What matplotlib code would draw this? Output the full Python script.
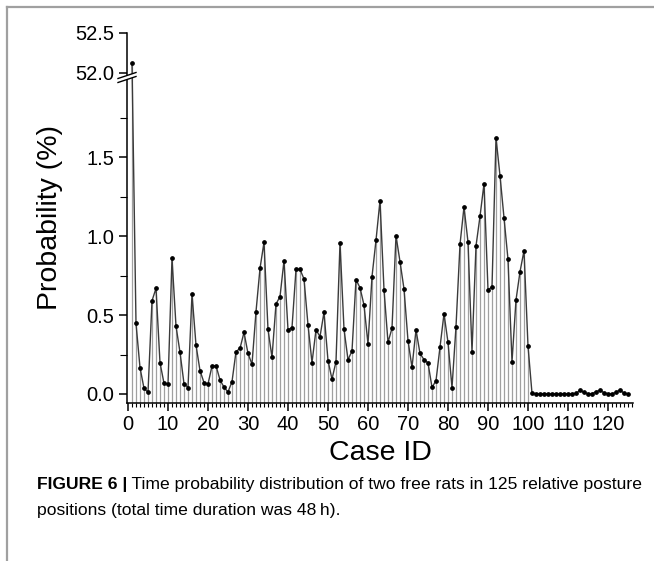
import numpy as np
import matplotlib
matplotlib.use("Agg")
import matplotlib.pyplot as plt
from matplotlib.lines import Line2D
from matplotlib.patches import Polygon

plt.rcParams['font.family'] = ['Liberation Sans', 'DejaVu Sans']

# ---------------- data ----------------
cases = np.arange(1, 126)
probability = [
    52.12, 0.447, 0.167, 0.036, 0.011, 0.590, 0.669, 0.198, 0.068, 0.063,
    0.859, 0.430, 0.264, 0.065, 0.040, 0.633, 0.310, 0.148, 0.072, 0.063,
    0.177, 0.179, 0.089, 0.043, 0.013, 0.078, 0.268, 0.289, 0.390, 0.257,
    0.188, 0.521, 0.795, 0.960, 0.409, 0.232, 0.570, 0.616, 0.844, 0.407,
    0.420, 0.789, 0.789, 0.728, 0.437, 0.198, 0.407, 0.363, 0.517, 0.212,
    0.094, 0.205, 0.956, 0.411, 0.217, 0.272, 0.724, 0.673, 0.563, 0.316,
    0.743, 0.973, 1.224, 0.660, 0.327, 0.416, 1.002, 0.838, 0.665, 0.338,
    0.169, 0.405, 0.257, 0.217, 0.197, 0.042, 0.084, 0.297, 0.508, 0.327,
    0.040, 0.426, 0.947, 1.184, 0.962, 0.268, 0.937, 1.124, 1.331, 0.660,
    0.677, 1.622, 1.382, 1.116, 0.852, 0.203, 0.595, 0.774, 0.907, 0.304,
    0.004, 0.002, 0.002, 0.002, 0.002, 0.002, 0.002, 0.002, 0.002, 0.002,
    0.002, 0.004, 0.023, 0.010, 0.002, 0.002, 0.015, 0.023, 0.008, 0.002,
    0.002, 0.010, 0.027, 0.004, 0.002,
]
probability = np.array(probability)
drop_line_last_case = 100

x_ticks = list(range(0, 121, 10))
y_ticks = [0.0, 0.5, 1.0, 1.5, 52.0, 52.5]
y_tick_labels = ["0.0", "0.5", "1.0", "1.5", "52.0", "52.5"]
y_minor = [0.25, 0.75, 1.25, 1.75]

caption_bold = "FIGURE 6 |"
caption_rest1 = " Time probability distribution of two free rats in 125 relative posture"
caption_line2 = "positions (total time duration was 48\u2009h)."

# ---------------- broken y scale ----------------
LOW_TOP, HIGH_BOT = 2.0, 52.0
T_HIGH = 2.032
HIGH_K = 80.0 / 158.0
MID_K = (T_HIGH - LOW_TOP) / (HIGH_BOT - LOW_TOP)

def fwd(y):
    y = np.asarray(y, dtype=float)
    return np.where(y <= LOW_TOP, y,
                    np.where(y >= HIGH_BOT, T_HIGH + (y - HIGH_BOT) * HIGH_K,
                             LOW_TOP + (y - LOW_TOP) * MID_K))

def inv(t):
    t = np.asarray(t, dtype=float)
    return np.where(t <= LOW_TOP, t,
                    np.where(t >= T_HIGH, HIGH_BOT + (t - T_HIGH) / HIGH_K,
                             LOW_TOP + (t - LOW_TOP) / MID_K))

W, H = 654, 561
fig = plt.figure(figsize=(W / 100, H / 100), dpi=100)
ax_left, ax_right, ax_top, ax_bot = 127, 633, 33, 403
ax = fig.add_axes([ax_left / W, 1 - ax_bot / H, (ax_right - ax_left) / W, (ax_bot - ax_top) / H])
ax.set_yscale('function', functions=(fwd, inv))

ymin = -0.057
ax.set_ylim(ymin, 52.5)
ax.set_xlim(-0.25, 126.25)

# drop lines
mask = cases <= drop_line_last_case
ax.vlines(cases[mask], ymin, probability[mask], colors='#a0a0a0', linewidth=0.9, zorder=1)
# line + points
ax.plot(cases, probability, color='#3a3a3a', linewidth=1.0, zorder=2)
ax.plot(cases, probability, linestyle='none', marker='o', markersize=2.4,
        color='black', zorder=3)

for s in ['top', 'right']:
    ax.spines[s].set_visible(False)
for s in ['left', 'bottom']:
    ax.spines[s].set_linewidth(1.1)

ax.set_xticks(x_ticks)
ax.set_xticks(np.arange(0, 127, 1), minor=True)
ax.set_yticks(y_ticks)
ax.set_yticklabels(y_tick_labels)
ax.set_yticks(y_minor, minor=True)
ax.tick_params(axis='both', which='major', direction='out', length=6, width=1.1,
               labelsize=14.5, pad=3)
ax.tick_params(axis='both', which='minor', direction='out', length=3, width=0.8)
ax.tick_params(axis='y', which='minor', length=5)

ax.set_xlabel("Case ID", fontsize=20.5, labelpad=4)
ax.set_ylabel("Probability (%)", fontsize=20.5, labelpad=9)

# break marks on axis
def frac(ypx):
    return (ax_bot - ypx) / (ax_bot - ax_top)
bx0, bx1 = -9 / (ax_right - ax_left), 9 / (ax_right - ax_left)
ctr = frac(77.5)
rise = 6 / (ax_bot - ax_top) / 2
sep = 4 / (ax_bot - ax_top) / 2
poly = Polygon([(bx0, ctr - rise - sep), (bx1, ctr + rise - sep),
                (bx1, ctr + rise + sep), (bx0, ctr - rise + sep)],
               closed=True, transform=ax.transAxes, facecolor='white',
               edgecolor='none', clip_on=False, zorder=5)
ax.add_patch(poly)
for d in (-sep, sep):
    ax.add_line(Line2D([bx0, bx1], [ctr - rise + d, ctr + rise + d], transform=ax.transAxes,
                       color='black', linewidth=1.0, clip_on=False, zorder=6))

# caption
fig.canvas.draw()
r = fig.canvas.get_renderer()
cap_y1 = 1 - 484 / H
cap_y2 = 1 - 511 / H
cap_size = 12.6
tb = fig.text(37 / W, cap_y1, caption_bold, fontsize=cap_size, fontweight='bold', va='center', ha='left')
bb = tb.get_window_extent(renderer=r)
fig.text(bb.x1 / W, cap_y1, caption_rest1, fontsize=cap_size, va='center', ha='left')
fig.text(37 / W, cap_y2, caption_line2, fontsize=cap_size, va='center', ha='left')

# frame lines
fig.add_artist(Line2D([7 / W, 7 / W], [0, 1 - 7 / H], transform=fig.transFigure,
                      color='#a0a0a0', linewidth=1.6))
fig.add_artist(Line2D([7 / W, 1], [1 - 7 / H, 1 - 7 / H], transform=fig.transFigure,
                      color='#a0a0a0', linewidth=1.6))

fig.savefig("out.png", dpi=100)
